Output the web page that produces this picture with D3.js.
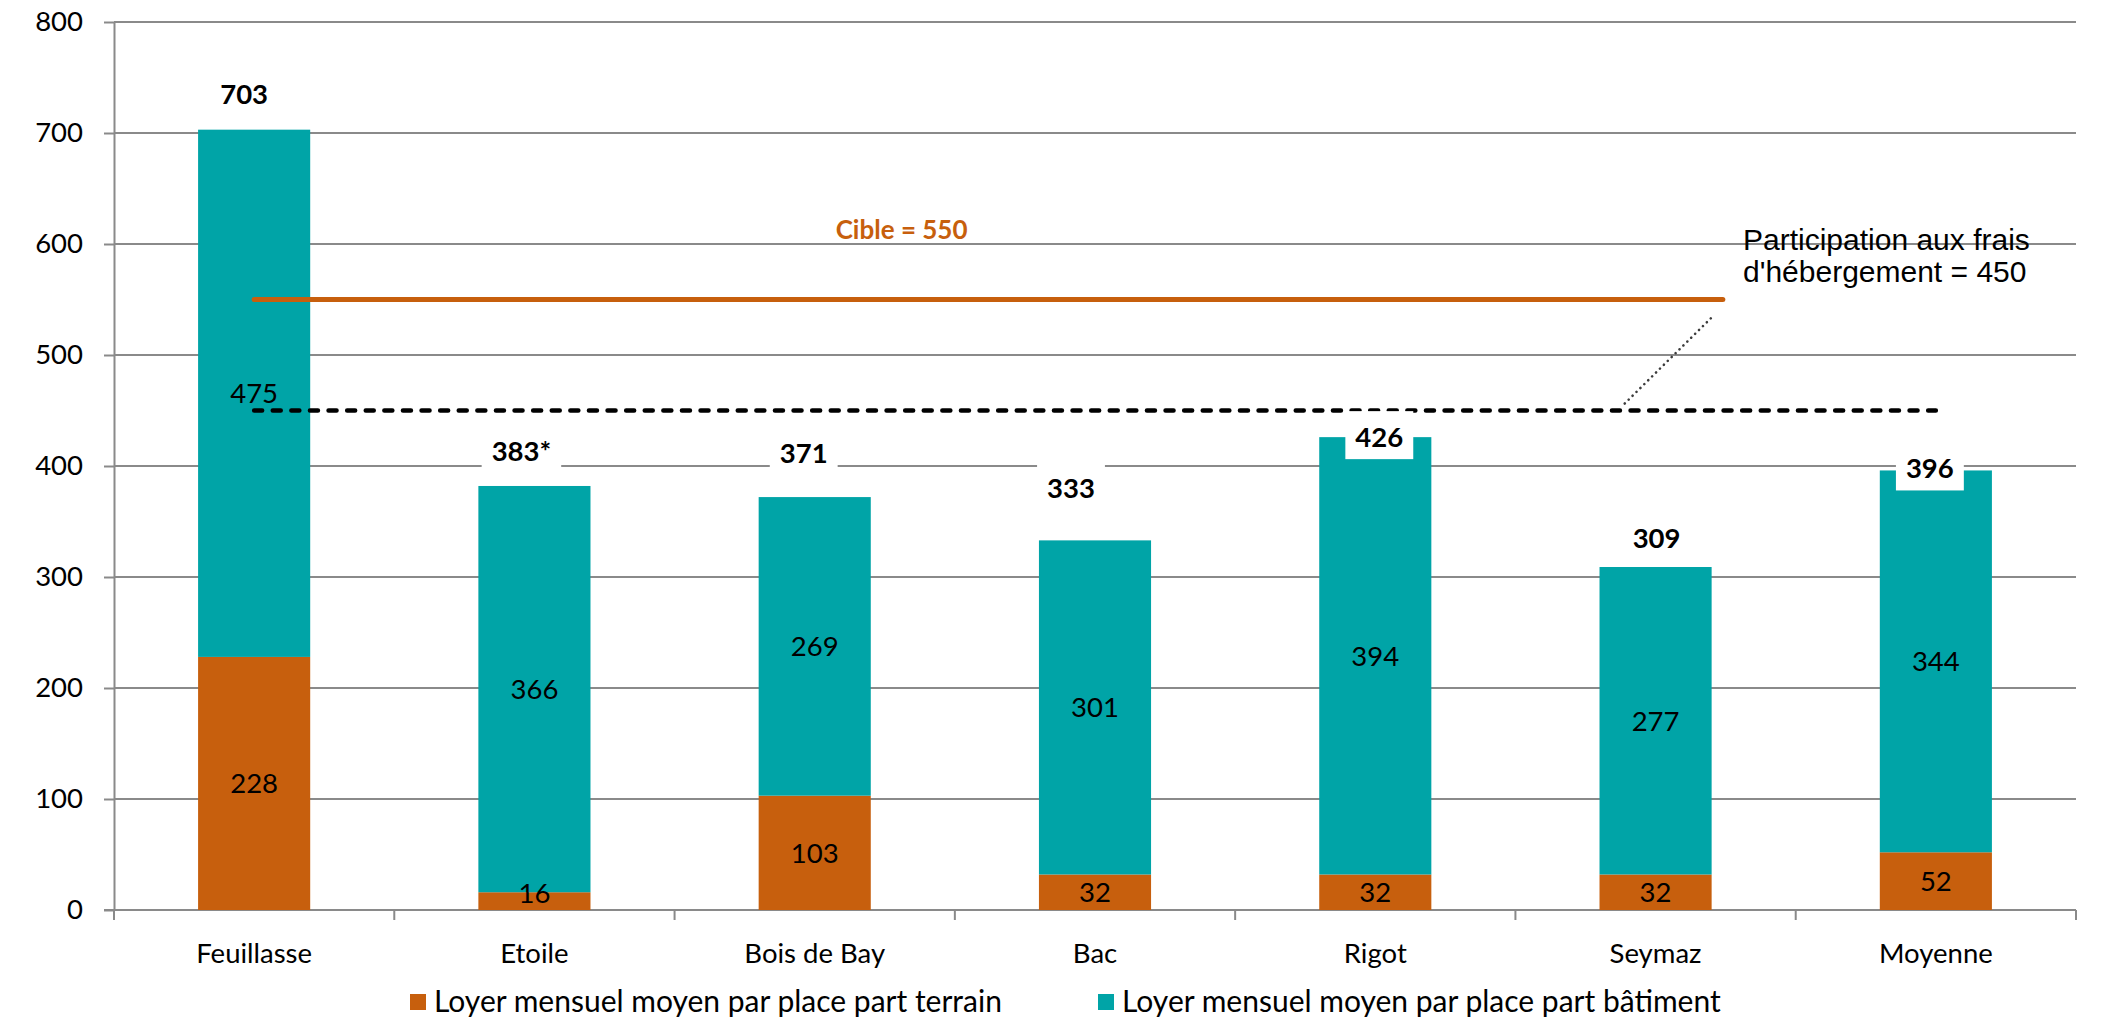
<!DOCTYPE html>
<html>
<head>
<meta charset="utf-8">
<script src="https://cdn.jsdelivr.net/npm/d3@7"></script>
<style>
  html, body { margin: 0; padding: 0; background: #fff; }
  svg { display: block; }
</style>
</head>
<body>
<svg id="chart" width="2113" height="1026"></svg>
<script>
// Monthly rent per place, split into land share and building share
const categories = ["Feuillasse", "Etoile", "Bois de Bay", "Bac", "Rigot", "Seymaz", "Moyenne"];
const terrain = [228, 16, 103, 32, 32, 32, 52];
const batiment = [475, 366, 269, 301, 394, 277, 344];
const totalLabels = ["703", "383*", "371", "333", "426", "309", "396"];
const yTicks = [0, 100, 200, 300, 400, 500, 600, 700, 800];
const seriesNames = [
  "Loyer mensuel moyen par place part terrain",
  "Loyer mensuel moyen par place part bâtiment"
];
const cibleValue = 550;
const participationValue = 450;

// Placement tweaks for the total labels (pixels: lift above stack top, horizontal shift)
const totalLift = [26, 25, 34, 42, -10, 19, -8];
const totalShift = [-10, -13, -11, -24, 4, 1, -6];

const COL_TERRAIN = "#C75F0D";
const COL_BATIMENT = "#00A4A7";
const GRID = "#8a8a8a";
const FONT = "Lato, 'Open Sans', sans-serif";
const FS = 27.5;

const svg = d3.select("#chart");
const plotLeft = 114, plotRight = 2076, plotTop = 22, plotBottom = 910;

const x = d3.scaleBand().domain(categories).range([plotLeft, plotRight]).padding(0);
const y = d3.scaleLinear().domain([0, 800]).range([plotBottom, plotTop]);
const barW = x.bandwidth() * 0.4;
const cx = c => x(c) + x.bandwidth() / 2;

// Gridlines
svg.append("g")
  .selectAll("line")
  .data(yTicks.filter(t => t > 0))
  .join("line")
  .attr("x1", plotLeft).attr("x2", plotRight)
  .attr("y1", d => y(d)).attr("y2", d => y(d))
  .attr("stroke", GRID).attr("stroke-width", 2);

// Y axis
const yAxis = svg.append("g")
  .attr("transform", `translate(${plotLeft},0)`)
  .call(d3.axisLeft(y).tickValues(yTicks).tickSize(10).tickSizeOuter(0).tickPadding(21));
yAxis.select(".domain").attr("stroke", GRID).attr("stroke-width", 2);
yAxis.selectAll(".tick line").attr("stroke", GRID).attr("stroke-width", 2);
yAxis.selectAll(".tick text")
  .attr("font-family", FONT).attr("font-size", FS).attr("fill", "#000");

// X axis: labels centred in each band, ticks at band boundaries
const xAxis = svg.append("g")
  .attr("transform", `translate(0,${plotBottom})`)
  .call(d3.axisBottom(x).tickSize(0).tickPadding(33));
xAxis.select(".domain").remove();
xAxis.selectAll(".tick text")
  .attr("font-family", FONT).attr("font-size", FS).attr("fill", "#000");

svg.append("line")
  .attr("x1", plotLeft - 10).attr("x2", plotRight)
  .attr("y1", plotBottom).attr("y2", plotBottom)
  .attr("stroke", GRID).attr("stroke-width", 2);
const bounds = categories.map(c => x(c)).concat([plotRight]);
svg.append("g").selectAll("line")
  .data(bounds)
  .join("line")
  .attr("x1", d => d).attr("x2", d => d)
  .attr("y1", plotBottom).attr("y2", plotBottom + 10)
  .attr("stroke", GRID).attr("stroke-width", 2);

// Stacked bars
const rows = categories.map((c, i) => ({ cat: c, terrain: terrain[i], batiment: batiment[i] }));
const stack = d3.stack().keys(["terrain", "batiment"]);
const series = stack(rows);
const colors = { terrain: COL_TERRAIN, batiment: COL_BATIMENT };

svg.append("g").selectAll("g")
  .data(series)
  .join("g")
  .attr("fill", d => colors[d.key])
  .selectAll("rect")
  .data(d => d)
  .join("rect")
  .attr("x", d => cx(d.data.cat) - barW / 2)
  .attr("width", barW)
  .attr("y", d => y(d[1]))
  .attr("height", d => y(d[0]) - y(d[1]));

// Target line (Cible)
const cibleX1 = cx(categories[0]);
const cibleX2 = x("Seymaz") + x.bandwidth() * 0.74;
svg.append("line")
  .attr("x1", cibleX1).attr("x2", cibleX2)
  .attr("y1", y(cibleValue)).attr("y2", y(cibleValue))
  .attr("stroke", COL_TERRAIN).attr("stroke-width", 5)
  .attr("stroke-linecap", "round");
svg.append("text")
  .attr("x", x("Etoile") + x.bandwidth() * 1.81)
  .attr("y", y(cibleValue) - 61)
  .attr("text-anchor", "middle")
  .attr("font-family", FONT).attr("font-weight", 700).attr("font-size", 26)
  .attr("fill", COL_TERRAIN)
  .text("Cible = " + cibleValue);

// Accommodation contribution line (dashed)
svg.append("line")
  .attr("x1", cx(categories[0])).attr("x2", cx(categories[categories.length - 1]))
  .attr("y1", y(participationValue)).attr("y2", y(participationValue))
  .attr("stroke", "#000").attr("stroke-width", 4.5)
  .attr("stroke-dasharray", "8 10.6")
  .attr("stroke-linecap", "round");

// Callout for the dashed line
const leaderStart = [x("Seymaz") + x.bandwidth() * 0.39, y(participationValue) - 7];
const leaderEnd = [x("Seymaz") + x.bandwidth() * 0.7, y(participationValue) - 93];
svg.append("line")
  .attr("x1", leaderStart[0]).attr("y1", leaderStart[1])
  .attr("x2", leaderEnd[0]).attr("y2", leaderEnd[1])
  .attr("stroke", "#3c3c3c").attr("stroke-width", 2.6)
  .attr("stroke-dasharray", "0.1 5.4").attr("stroke-linecap", "round");

const callout = svg.append("text")
  .attr("font-family", "'Liberation Sans', Arial, sans-serif")
  .attr("font-size", 30).attr("fill", "#000");
callout.append("tspan").attr("x", 1743).attr("y", 250).text("Participation aux frais");
callout.append("tspan").attr("x", 1743).attr("y", 282).text("d'hébergement = " + participationValue);

// Segment value labels (drawn after all bars so none is hidden)
const segLabels = [];
series.forEach(s => s.forEach(v => segLabels.push({ v, key: s.key })));
svg.append("g").selectAll("text")
  .data(segLabels)
  .join("text")
  .attr("x", d => cx(d.v.data.cat))
  .attr("y", d => Math.min(y((d.v[0] + d.v[1]) / 2), plotBottom - 17))
  .attr("dy", "0.36em")
  .attr("text-anchor", "middle")
  .attr("font-family", FONT).attr("font-size", FS).attr("fill", "#000")
  .text(d => d.v.data[d.key]);

// Total labels with white backing boxes
const stackTops = series[series.length - 1];
const totalsG = svg.append("g");
stackTops.forEach((d, i) => {
  const g = totalsG.append("g");
  const tx = cx(d.data.cat) + totalShift[i];
  const ty = y(d[1]) - totalLift[i];
  const rect = g.append("rect").attr("fill", "#fff");
  const t = g.append("text")
    .attr("x", tx).attr("y", ty)
    .attr("text-anchor", "middle")
    .attr("font-family", FONT).attr("font-weight", 700).attr("font-size", FS)
    .attr("fill", "#000")
    .text(totalLabels[i]);
  const bb = t.node().getBBox();
  rect.attr("x", bb.x - 10).attr("width", bb.width + 20)
    .attr("y", ty - 36).attr("height", 48);
});

// Legend
const legend = svg.append("g");
const legendX = [410, 1098];
seriesNames.forEach((name, i) => {
  legend.append("rect")
    .attr("x", legendX[i]).attr("y", 994).attr("width", 16).attr("height", 16)
    .attr("fill", i === 0 ? COL_TERRAIN : COL_BATIMENT);
  legend.append("text")
    .attr("x", legendX[i] + 24).attr("y", 1012)
    .attr("font-family", FONT).attr("font-size", 30).attr("fill", "#000")
    .text(name);
});
</script>
</body>
</html>
